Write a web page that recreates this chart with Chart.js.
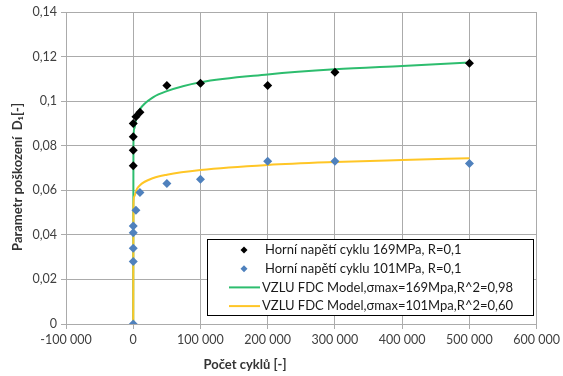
<!DOCTYPE html>
<html>
<head>
<meta charset="utf-8">
<script src="https://cdn.jsdelivr.net/npm/chart.js@4/dist/chart.umd.min.js"></script>
<style>
  html, body { margin: 0; padding: 0; background: #fff; }
  #wrap { width: 563px; height: 376px; }
</style>
</head>
<body>
<div id="wrap"><canvas id="chart" width="563" height="376"></canvas></div>
<script>
// measured damage parameter, upper stress 169 MPa
const cycles169 = [0, 0, 0, 0, 4000, 10000, 50000, 100000, 200000, 300000, 500000];
const damage169 = [0.071, 0.078, 0.084, 0.090, 0.093, 0.095, 0.107, 0.108, 0.107, 0.113, 0.117];

// measured damage parameter, upper stress 101 MPa
const cycles101 = [0, 0, 0, 0, 0, 4000, 10000, 50000, 100000, 200000, 300000, 500000];
const damage101 = [0, 0.028, 0.034, 0.041, 0.044, 0.051, 0.059, 0.063, 0.065, 0.073, 0.073, 0.072];

// model curves
const modelCycles = [0, 300, 1500, 5000, 10000, 30000, 50000, 100000, 200000, 300000, 400000, 500000];
const model169 = [0, 0.081, 0.0877, 0.0932, 0.0964, 0.1018, 0.1045, 0.1085, 0.112, 0.1143, 0.1158, 0.1173];
const model101 = [0, 0.0531, 0.0572, 0.0603, 0.0623, 0.0655, 0.067, 0.0691, 0.0714, 0.0727, 0.0736, 0.0744];

const seriesLabels = [
  'Horní napětí cyklu 169MPa, R=0,1',
  'Horní napětí cyklu 101MPa, R=0,1',
  'VZLU FDC Model,σmax=169Mpa,R^2=0,98',
  'VZLU FDC Model,σmax=101Mpa,R^2=0,60'
];

const xTitle = 'Počet cyklů [-]';
const yTitle = 'Parametr poškození  D₁[-]';

const FONT = 'Lato, "Open Sans", sans-serif';
const GRID = '#ababab';

function toPoints(xs, ys) {
  return xs.map((x, i) => ({ x: x, y: ys[i] }));
}

function formatThousands(v) {
  const s = String(Math.abs(Math.round(v))).replace(/\B(?=(\d{3})+(?!\d))/g, ' ');
  return (v < 0 ? '-' : '') + s;
}

function formatDecimal(v) {
  return String(Math.round(v * 100) / 100).replace('.', ',');
}

// boxed legend inside the plot, lower right
const boxLegend = {
  id: 'boxLegend',
  afterDatasetsDraw(chart) {
    const ctx = chart.ctx;
    const left = 207, top = 239, right = 533, bottom = 315;
    ctx.save();
    ctx.fillStyle = '#fff';
    ctx.fillRect(left, top, right - left, bottom - top);
    ctx.strokeStyle = '#000';
    ctx.lineWidth = 1;
    ctx.strokeRect(left + 0.5, top + 0.5, right - left, bottom - top);
    ctx.font = '13px ' + FONT;
    ctx.textBaseline = 'middle';
    chart.data.datasets.forEach((ds, i) => {
      const y = 250 + i * 18.7;
      if (ds.showLine) {
        ctx.strokeStyle = ds.borderColor;
        ctx.lineWidth = 2;
        ctx.beginPath();
        ctx.moveTo(229, y);
        ctx.lineTo(260, y);
        ctx.stroke();
        ctx.fillStyle = '#1a1a1a';
        ctx.fillText(ds.label, 262, y);
      } else {
        ctx.fillStyle = ds.backgroundColor;
        ctx.beginPath();
        ctx.moveTo(244, y - 3.5);
        ctx.lineTo(247.5, y);
        ctx.lineTo(244, y + 3.5);
        ctx.lineTo(240.5, y);
        ctx.closePath();
        ctx.fill();
        ctx.fillStyle = '#1a1a1a';
        ctx.fillText(ds.label, 265, y);
      }
    });
    ctx.restore();
  }
};

// axis titles
const axisTitles = {
  id: 'axisTitles',
  afterDraw(chart) {
    const ctx = chart.ctx;
    ctx.save();
    ctx.font = 'bold 13px ' + FONT;
    ctx.fillStyle = '#333';
    ctx.textAlign = 'center';
    ctx.textBaseline = 'middle';
    ctx.fillText(xTitle, 245, 365);
    ctx.translate(18, 177);
    ctx.rotate(-Math.PI / 2);
    ctx.fillText(yTitle, 0, 0);
    ctx.restore();
  }
};

new Chart(document.getElementById('chart'), {
  type: 'scatter',
  data: {
    datasets: [
      {
        label: seriesLabels[0],
        data: toPoints(cycles169, damage169),
        backgroundColor: '#000',
        borderColor: '#000',
        pointStyle: 'rectRot',
        pointRadius: 4.5,
        pointBorderWidth: 0,
        order: 0
      },
      {
        label: seriesLabels[1],
        data: toPoints(cycles101, damage101),
        backgroundColor: '#4f81bd',
        borderColor: '#4f81bd',
        pointStyle: 'rectRot',
        pointRadius: 4.5,
        pointBorderWidth: 0,
        order: 1
      },
      {
        label: seriesLabels[2],
        data: toPoints(modelCycles, model169),
        showLine: true,
        borderColor: '#2dbd6e',
        borderWidth: 2,
        pointRadius: 0,
        cubicInterpolationMode: 'monotone',
        order: 3
      },
      {
        label: seriesLabels[3],
        data: toPoints(modelCycles, model101),
        showLine: true,
        borderColor: '#ffc626',
        borderWidth: 2,
        pointRadius: 0,
        cubicInterpolationMode: 'monotone',
        order: 2
      }
    ]
  },
  options: {
    responsive: false,
    animation: false,
    layout: { padding: { left: 0, top: 12, right: 26, bottom: 0 } },
    plugins: {
      legend: { display: false },
      tooltip: { enabled: false }
    },
    scales: {
      x: {
        type: 'linear',
        min: -100000,
        max: 600000,
        afterFit: scale => { scale.height = 52; },
        ticks: {
          stepSize: 100000,
          padding: 3,
          color: '#404040',
          font: { family: FONT, size: 12.5 },
          maxRotation: 0,
          callback: v => formatThousands(v)
        },
        grid: { color: GRID, tickLength: 5 },
        border: { color: GRID }
      },
      y: {
        min: 0,
        max: 0.14,
        afterFit: scale => { scale.width = 66; },
        ticks: {
          stepSize: 0.02,
          padding: 4,
          color: '#404040',
          font: { family: FONT, size: 12.5 },
          callback: v => formatDecimal(v)
        },
        grid: { color: GRID, tickLength: 5 },
        border: { color: GRID }
      }
    }
  },
  plugins: [boxLegend, axisTitles]
});
</script>
</body>
</html>
